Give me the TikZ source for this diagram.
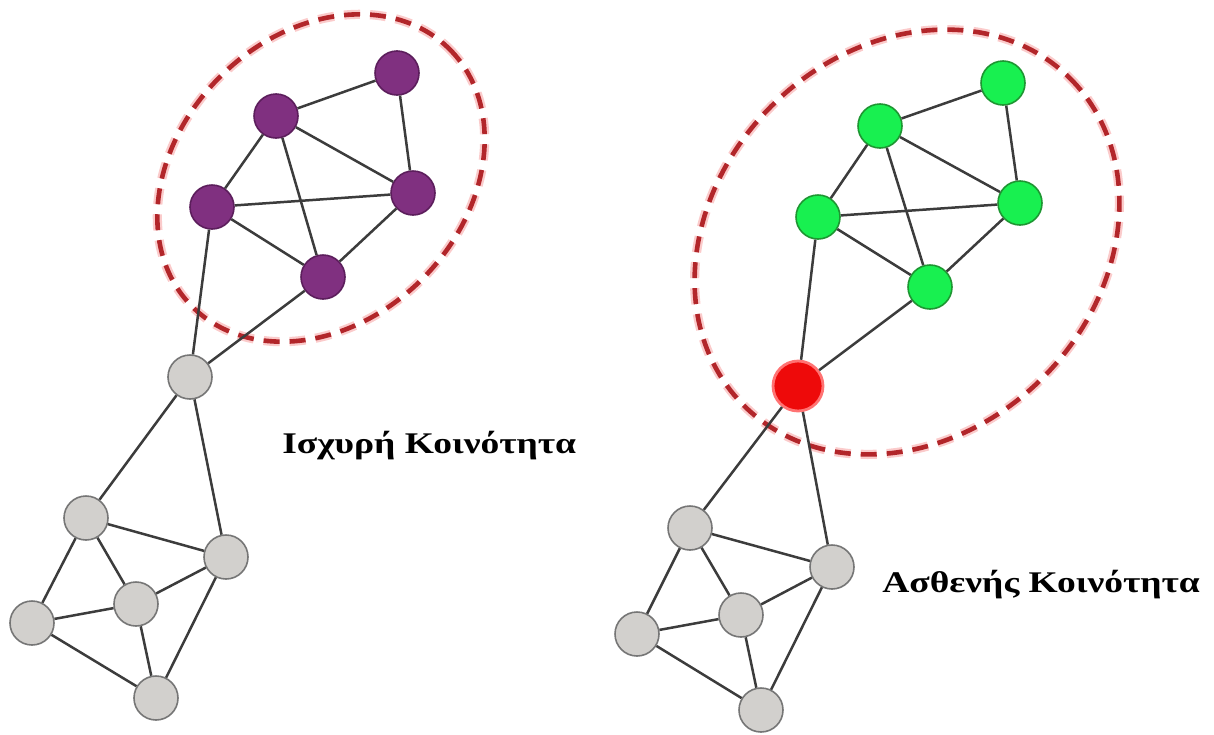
\documentclass[tikz,border=0pt]{standalone}
\usepackage{fontspec}
\setmainfont{Liberation Serif}

\definecolor{purplefill}{RGB}{128,48,128}
\definecolor{purpleline}{RGB}{92,30,92}
\definecolor{greenfill}{RGB}{24,240,80}
\definecolor{greenline}{RGB}{30,150,50}
\definecolor{greyfill}{RGB}{210,208,205}
\definecolor{greyline}{RGB}{118,118,118}
\definecolor{bridgefill}{RGB}{238,10,10}
\definecolor{edgegrey}{RGB}{60,60,60}
\definecolor{ringred}{RGB}{178,38,42}
\definecolor{ringglow}{RGB}{250,190,190}

\newcommand{\widetext}[1]{\scalebox{1.25}[1]{#1}}

\tikzset{
  vertex/.style={circle, minimum size=22pt, inner sep=0pt, line width=0.8pt},
  strongnode/.style={vertex, fill=purplefill, draw=purpleline},
  weaknode/.style={vertex, fill=greenfill, draw=greenline},
  bridgenode/.style={vertex, minimum size=25pt, fill=bridgefill, draw=red!55!white, line width=1.4pt},
  plainnode/.style={vertex, fill=greyfill, draw=greyline},
  link/.style={draw=edgegrey, line width=1.25pt},
  ringglowline/.style={draw=ringglow, line width=4.6pt, dash pattern=on 8pt off 5pt, opacity=0.8},
  ringline/.style={draw=ringred, line width=2.3pt, dash pattern=on 8pt off 5pt},
  caption/.style={font=\fontsize{15}{17}\selectfont\bfseries, inner sep=0pt}
}

\begin{document}
\begin{tikzpicture}[x=0.5pt,y=-0.5pt]
\useasboundingbox (0,0) rectangle (1214,734);

% dashed community borders
\draw[ringglowline, rotate around={45:(321,178)}] (321,178) ellipse (182 and 143);
\draw[ringline, rotate around={45:(321,178)}] (321,178) ellipse (182 and 143);
\draw[ringglowline, rotate around={45:(907,242)}] (907,242) ellipse (231 and 192);
\draw[ringline, rotate around={45:(907,242)}] (907,242) ellipse (231 and 192);

% left graph
\node[strongnode] (p1) at (397,73) {};
\node[strongnode] (p2) at (276,116) {};
\node[strongnode] (p3) at (212,207) {};
\node[strongnode] (p4) at (413,193) {};
\node[strongnode] (p5) at (323,277) {};
\node[plainnode] (l0) at (190,377) {};
\node[plainnode] (l1) at (86,518) {};
\node[plainnode] (l2) at (226,557) {};
\node[plainnode] (l3) at (136,604) {};
\node[plainnode] (l4) at (32,623) {};
\node[plainnode] (l5) at (156,698) {};

\foreach \a/\b in {p1/p2, p1/p4, p2/p3, p2/p4, p2/p5, p3/p4, p3/p5, p4/p5,
                   p3/l0, p5/l0, l0/l1, l0/l2, l1/l2, l1/l3, l1/l4,
                   l2/l3, l2/l5, l3/l4, l3/l5, l4/l5}
  \draw[link] (\a) -- (\b);

% right graph
\node[weaknode] (g1) at (1003,83) {};
\node[weaknode] (g2) at (880,126) {};
\node[weaknode] (g3) at (818,217) {};
\node[weaknode] (g4) at (1020,203) {};
\node[weaknode] (g5) at (930,287) {};
\node[bridgenode] (w) at (798,386) {};
\node[plainnode] (r1) at (690,528) {};
\node[plainnode] (r2) at (832,567) {};
\node[plainnode] (r3) at (741,615) {};
\node[plainnode] (r4) at (637,634) {};
\node[plainnode] (r5) at (761,710) {};

\foreach \a/\b in {g1/g2, g1/g4, g2/g3, g2/g4, g2/g5, g3/g4, g3/g5, g4/g5,
                   g3/w, g5/w, w/r1, w/r2, r1/r2, r1/r3, r1/r4,
                   r2/r3, r2/r5, r3/r4, r3/r5, r4/r5}
  \draw[link] (\a) -- (\b);

% captions
\node[caption, anchor=base west] (strongtxt) at (282,453) {\widetext{Ισχυρή Κοινότητα}};
\node[caption, anchor=base west] (weaktxt) at (882,592) {\widetext{Ασθενής Κοινότητα}};
\end{tikzpicture}
\end{document}
